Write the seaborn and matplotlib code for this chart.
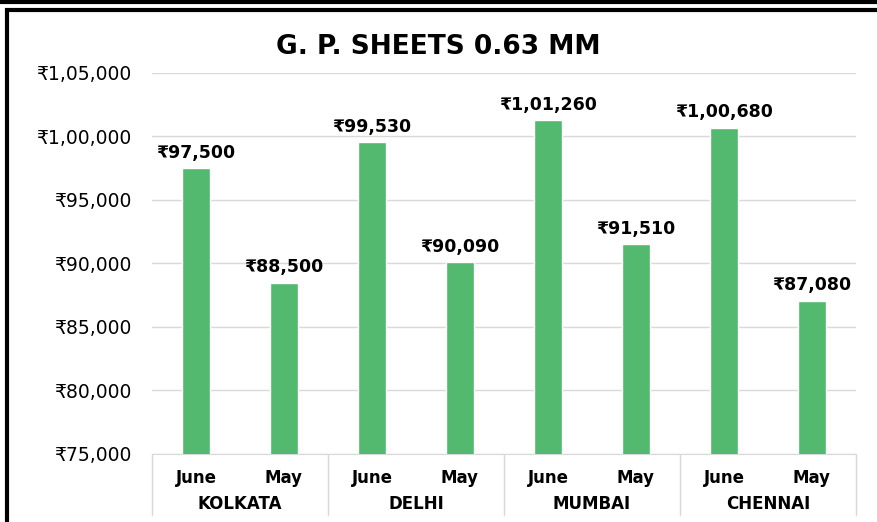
import numpy as np
import pandas as pd
import matplotlib
matplotlib.use("Agg")
import matplotlib.pyplot as plt
import matplotlib.transforms as mtransforms
import seaborn as sns
from matplotlib.patches import Rectangle
from matplotlib.lines import Line2D

# data
cities = ["KOLKATA", "DELHI", "MUMBAI", "CHENNAI"]
months = ["June", "May"]
june_prices = [97500, 99530, 101260, 100680]
may_prices = [88500, 90090, 91510, 87080]
y_ticks = [75000, 80000, 85000, 90000, 95000, 100000, 105000]


def inr(v):
    # indian digit grouping: 1,05,000
    s = str(int(v))
    if len(s) <= 3:
        return "₹" + s
    last3 = s[-3:]
    rest = s[:-3]
    parts = []
    while len(rest) > 2:
        parts.insert(0, rest[-2:])
        rest = rest[:-2]
    if rest:
        parts.insert(0, rest)
    return "₹" + ",".join(parts + [last3])


rows = []
for c, j, m in zip(cities, june_prices, may_prices):
    rows.append({"key": c + "-June", "city": c, "month": "June", "price": j})
    rows.append({"key": c + "-May", "city": c, "month": "May", "price": m})
df = pd.DataFrame(rows)

sns.set_style("white")
plt.rcParams["font.family"] = ["DejaVu Sans"]
plt.rcParams["text.color"] = "black"
plt.rcParams["xtick.color"] = "black"
plt.rcParams["ytick.color"] = "black"

fig = plt.figure(figsize=(8.77, 5.22), dpi=100)
ax = fig.add_axes([0.1733, 0.1303, 0.8027, 0.7299])

sns.barplot(data=df, x="key", y="price", order=df["key"].tolist(),
            color="#52B96F", saturation=1, width=0.32, ax=ax, zorder=3)

ax.set_ylim(75000, 105000)
ax.set_yticks(y_ticks)
ax.set_yticklabels([inr(t) for t in y_ticks], fontsize=13.5)
ax.yaxis.grid(True, color="#d9d9d9", linewidth=1)
ax.set_axisbelow(True)
ax.tick_params(axis="y", length=0, pad=15)
ax.tick_params(axis="x", length=0, pad=11)
ax.set_xticks(range(len(df)))
ax.set_xticklabels(df["month"], fontsize=12, fontweight="bold")
ax.set_xlim(-0.5, len(df) - 0.5)
ax.set_xlabel("")
ax.set_ylabel("")
for s in ["top", "right", "left"]:
    ax.spines[s].set_visible(False)
ax.spines["bottom"].set_color("#d9d9d9")

# value labels
for i, p in enumerate(df["price"]):
    ax.text(i, p + 500, inr(p), ha="center", va="bottom",
            fontsize=12.5, fontweight="bold")

# city row + separators
trans = mtransforms.blended_transform_factory(ax.transData, ax.transAxes)
for k, c in enumerate(cities):
    ax.text(2 * k + 0.5, -0.131, c, transform=trans, ha="center", va="center",
            fontsize=12, fontweight="bold")
for x in [-0.5, 1.5, 3.5, 5.5, 7.5]:
    ax.add_line(Line2D([x, x], [0, -0.16], transform=trans, color="#d9d9d9",
                       linewidth=1, clip_on=False))

fig.suptitle("G. P. SHEETS 0.63 MM", y=0.935, fontsize=19, fontweight="bold")

# outer frame
fig.add_artist(Line2D([0, 1], [0.997, 0.997], transform=fig.transFigure,
                      color="black", linewidth=3))
fig.add_artist(Rectangle((0.0075, -0.05), 1.1, 1.03, transform=fig.transFigure,
                         fill=False, edgecolor="black", linewidth=3))

fig.savefig("out.png", dpi=100)
